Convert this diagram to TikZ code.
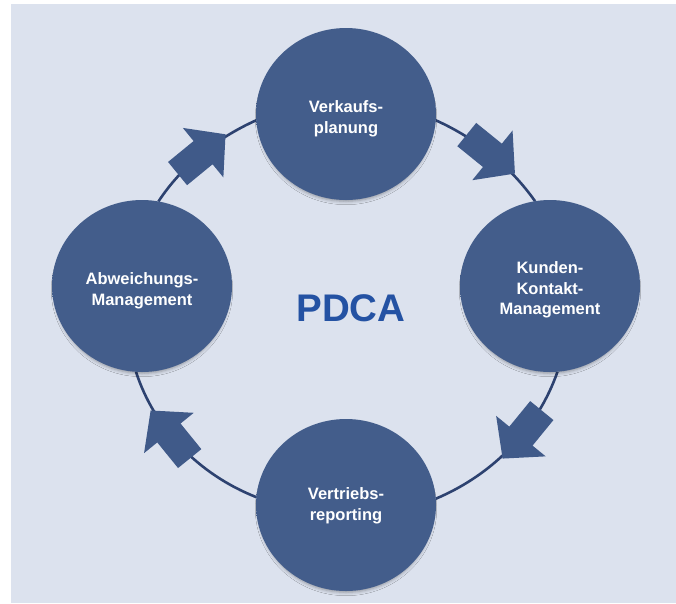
\documentclass[tikz,border=0pt]{standalone}
\usepackage{fontspec}
\setmainfont{Liberation Sans}
\usetikzlibrary{shapes.geometric, shadows.blur, decorations.markings}

\definecolor{canvasbg}{HTML}{DCE2EE}
\definecolor{discfill}{HTML}{435D8B}
\definecolor{discrim}{HTML}{56709E}
\definecolor{ringline}{HTML}{2D4270}
\definecolor{arrowfill}{HTML}{405A89}
\definecolor{titleblue}{HTML}{2452A3}

% flat disc with a soft, slightly lighter rim
\pgfdeclareradialshading{discshade}{\pgfpoint{0bp}{0bp}}{%
  color(0bp)=(discfill); color(40bp)=(discfill);
  color(47bp)=(discrim!50!discfill); color(50bp)=(discrim)}

\pgfdeclarelayer{back}
\pgfsetlayers{back,main}

\tikzset{
  phase/.style={ellipse, minimum width=180pt, minimum height=172pt,
    inner sep=0pt, outer sep=0pt, shade, shading=discshade,
    blur shadow={shadow xshift=0pt, shadow yshift=-4pt, shadow scale=0.97,
      shadow blur radius=3.5pt, shadow opacity=35}},
  phasetext/.style={text=white, align=center, inner sep=0pt,
    font=\fontsize{16.5}{20.5}\selectfont\bfseries},
  ring/.style={draw=ringline, line width=2.6pt},
  flowmark/.style={postaction=decorate, decoration={markings,
    mark=at position #1 with {\fill[arrowfill]
      (-31,-15) -- (2,-15) -- (2,-32) -- (31,0) -- (2,32) -- (2,15) -- (-31,15) -- cycle;}}},
}

\begin{document}
\begin{tikzpicture}[x=1pt, y=-1pt]
  \useasboundingbox (0,0) rectangle (676,603);

  % the four phases of the cycle
  \node[phase] (plan)      at (346,114) {};
  \node[phase] (contact)   at (550,286) {};
  \node[phase] (report)    at (346,505) {};
  \node[phase] (deviation) at (142,286) {};

  \node[phasetext] (plan-text)      at ([yshift=-5pt]plan.center)      {Verkaufs-\\planung};
  \node[phasetext] (contact-text)   at ([yshift=-4pt]contact.center)   {Kunden-\\Kontakt-\\Management};
  \node[phasetext] (report-text)    at ([yshift=-1pt]report.center)    {Vertriebs-\\reporting};
  \node[phasetext] (deviation-text) at ([yshift=-5pt]deviation.center) {Abweichungs-\\Management};

  \node[text=titleblue, font=\fontsize{38.5}{40}\selectfont\bfseries] (title) at (351,308.5) {PDCA};

  \begin{pgfonlayer}{back}
    \fill[canvasbg] (11,4) rectangle (676,603);
    % elliptical ring, one quarter per step, with a block arrow on each
    \draw[ring, flowmark=0.5]
      (plan.-4.9) .. controls (476.3,138.5) and (510.5,166.4) .. (contact.100.8);
    \draw[ring, flowmark=0.4]
      (contact.-85.5) .. controls (537.8,428.2) and (493.7,474.3) .. (report.4.3);
    \draw[ring, flowmark=0.6]
      (report.175.7) .. controls (198.3,474.3) and (154.2,428.2) .. (deviation.-94.5);
    \draw[ring, flowmark=0.5]
      (deviation.79.2) .. controls (181.5,166.4) and (215.7,138.5) .. (plan.184.9);
  \end{pgfonlayer}
\end{tikzpicture}
\end{document}
